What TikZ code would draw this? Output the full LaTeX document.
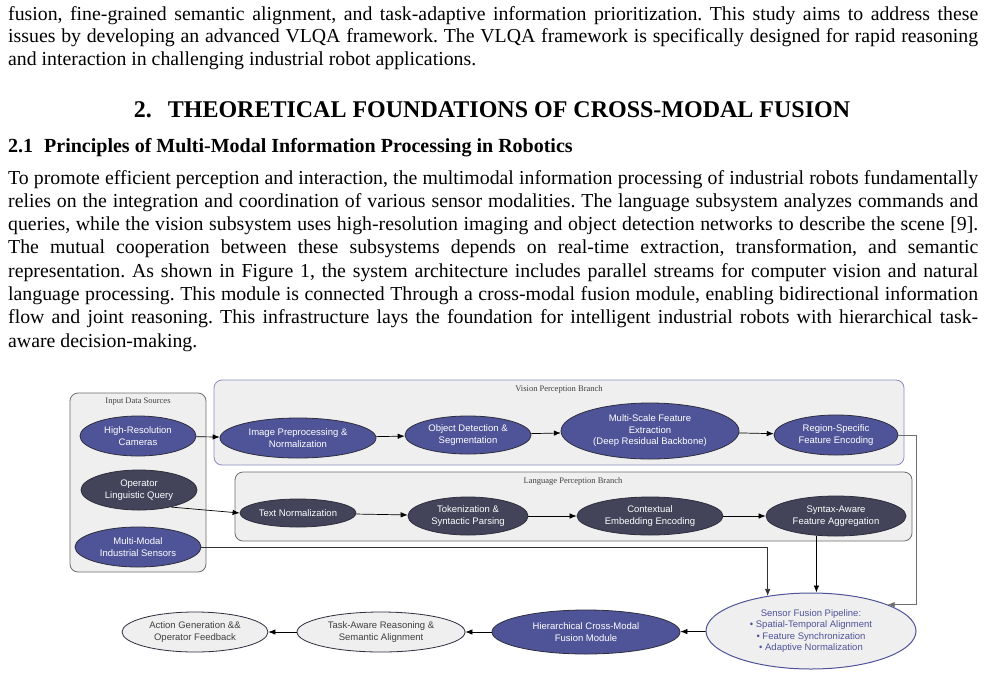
\documentclass[tikz,border=0pt]{standalone}
\usepackage{fontspec}
\setmainfont{Liberation Serif}
\newfontfamily\arialf{Liberation Sans}
\usetikzlibrary{arrows.meta,shapes.geometric}
\frenchspacing
\definecolor{nblue}{HTML}{4F5499}
\definecolor{ndark}{HTML}{434359}
\definecolor{nlight}{HTML}{EFEFEF}
\definecolor{nbord}{HTML}{2E2E3E}
\definecolor{vborder}{HTML}{8C8CC4}
\definecolor{gborder}{HTML}{6E6E6E}
\definecolor{sfblue}{HTML}{4F5499}
\tikzset{
  bodyline/.style={anchor=base west, inner sep=0pt, font=\frenchspacing\fontsize{19.8}{22.8}\selectfont},
  grpbox/.style={rounded corners=8pt, fill=nlight, line width=0.8pt},
  grptitle/.style={inner sep=0pt, font=\fontsize{8.5}{10}\selectfont, text=black!75},
  ellbase/.style={ellipse, inner sep=0pt, line width=0.8pt, align=center, font=\arialf\fontsize{9.5}{11.5}\selectfont},
  blueell/.style={ellbase, draw=nbord, fill=nblue, text=white},
  darkell/.style={ellbase, draw=nbord, fill=ndark, text=white},
  lightell/.style={ellbase, draw=nbord, fill=nlight, text=black!75},
  sfell/.style={ellbase, draw=sfblue, fill=nlight, text=sfblue, line width=1pt},
  arr/.style={-{Latex[length=7pt,width=5.5pt]}, line width=0.7pt, draw=black},
  arrg/.style={-{Latex[length=7pt,width=5.5pt]}, line width=0.9pt, draw=gborder},
}
\newcommand{\jl}[1]{\makebox[970pt][s]{#1}}
\begin{document}
\begin{tikzpicture}[x=1pt,y=-1pt]
\useasboundingbox[fill=white] (0,0) rectangle (985,678);

% ---------- text ----------
\node[bodyline] (a1) at (8,20) {\jl{fusion, fine-grained semantic alignment, and task-adaptive information prioritization. This study aims to address these}};
\node[bodyline] (a2) at (8,42.6) {\jl{issues by developing an advanced VLQA framework. The VLQA framework is specifically designed for rapid reasoning}};
\node[bodyline] (a3) at (8,65.2) {and interaction in challenging industrial robot applications.};

\node[anchor=base, inner sep=0pt, font=\bfseries\fontsize{24}{28}\selectfont] (h2) at (492,117) {2.\hspace{16pt}THEORETICAL FOUNDATIONS OF CROSS-MODAL FUSION};
\node[anchor=base west, inner sep=0pt, font=\bfseries\fontsize{20}{23}\selectfont] (h21) at (8,152) {2.1\hspace{11pt}Principles of Multi-Modal Information Processing in Robotics};

\node[bodyline] (b1) at (8,184) {\jl{To promote efficient perception and interaction, the multimodal information processing of industrial robots fundamentally}};
\node[bodyline] (b2) at (8,207.3) {\jl{relies on the integration and coordination of various sensor modalities. The language subsystem analyzes commands and}};
\node[bodyline] (b3) at (8,230.6) {\jl{queries, while the vision subsystem uses high-resolution imaging and object detection networks to describe the scene [9].}};
\node[bodyline] (b4) at (8,253.9) {\jl{The mutual cooperation between these subsystems depends on real-time extraction, transformation, and semantic}};
\node[bodyline] (b5) at (8,277.2) {\jl{representation. As shown in Figure 1, the system architecture includes parallel streams for computer vision and natural}};
\node[bodyline] (b6) at (8,300.5) {\jl{language processing. This module is connected Through a cross-modal fusion module, enabling bidirectional information}};
\node[bodyline] (b7) at (8,323.8) {\jl{flow and joint reasoning. This infrastructure lays the foundation for intelligent industrial robots with hierarchical task-}};
\node[bodyline] (b8) at (8,347.1) {aware decision-making.};

% ---------- group boxes ----------
\draw[grpbox, draw=gborder] (70,393) rectangle (206,572);
\node[grptitle] (tin) at (138,402) {Input Data Sources};
\draw[grpbox, draw=vborder] (214,380) rectangle (904,465);
\node[grptitle] (tvis) at (559,389) {Vision Perception Branch};
\draw[grpbox, draw=gborder] (235,472) rectangle (912,541);
\node[grptitle] (tlang) at (573,481) {Language Perception Branch};

% ---------- nodes ----------
\node[blueell, minimum width=116pt, minimum height=40pt] (cam) at (138,436) {High-Resolution\\Cameras};
\node[darkell, minimum width=116pt, minimum height=40pt] (op) at (139,490) {Operator\\Linguistic Query};
\node[blueell, minimum width=126pt, minimum height=40pt] (sens) at (138,547) {Multi-Modal\\Industrial Sensors};

\node[blueell, minimum width=156pt, minimum height=40pt] (imgp) at (298,438) {Image Preprocessing \&\\Normalization};
\node[blueell, minimum width=126pt, minimum height=38pt] (objd) at (468,435) {Object Detection \&\\Segmentation};
\node[blueell, minimum width=178pt, minimum height=56pt] (msf) at (650,431) {Multi-Scale Feature\\Extraction\\(Deep Residual Backbone)};
\node[blueell, minimum width=124pt, minimum height=40pt] (reg) at (836,435) {Region-Specific\\Feature Encoding};

\node[darkell, minimum width=116pt, minimum height=28pt] (tn) at (298,513) {Text Normalization};
\node[darkell, minimum width=120pt, minimum height=38pt] (tok) at (468,516) {Tokenization \&\\Syntactic Parsing};
\node[darkell, minimum width=146pt, minimum height=38pt] (ctx) at (650,516) {Contextual\\Embedding Encoding};
\node[darkell, minimum width=140pt, minimum height=40pt] (syn) at (836,516) {Syntax-Aware\\Feature Aggregation};

\node[sfell, minimum width=210pt, minimum height=76pt] (sf) at (811,631) {Sensor Fusion Pipeline:\\\textbullet\ Spatial-Temporal Alignment\\\textbullet\ Feature Synchronization\\\textbullet\ Adaptive Normalization};
\node[blueell, minimum width=188pt, minimum height=44pt] (hier) at (586,632) {Hierarchical Cross-Modal\\Fusion Module};
\node[lightell, minimum width=168pt, minimum height=40pt] (task) at (381,632) {Task-Aware Reasoning \&\\Semantic Alignment};
\node[lightell, minimum width=146pt, minimum height=40pt] (act) at (195,632) {Action Generation \&\&\\Operator Feedback};

% ---------- connectors ----------
\draw[arr] (cam) -- (imgp);
\draw[arr] (imgp) -- (objd);
\draw[arr] (objd) -- (msf);
\draw[arr] (msf) -- (reg);
\draw[arrg] (reg.east) -- ++(18,0) |- (sf.19);

\draw[arr] (op.-28) -- (tn.west);
\draw[arr] (tn) -- (tok);
\draw[arr] (tok) -- (ctx);
\draw[arr] (ctx) -- (syn);
\draw[arr] (syn.-135) -- (syn.-135 |- sf.north);

\draw[arr, draw=black!80] (sens.east) -| (sf.141);

\draw[arr] (sf) -- (hier);
\draw[arr] (hier) -- (task);
\draw[arr] (task) -- (act);
\end{tikzpicture}
\end{document}
